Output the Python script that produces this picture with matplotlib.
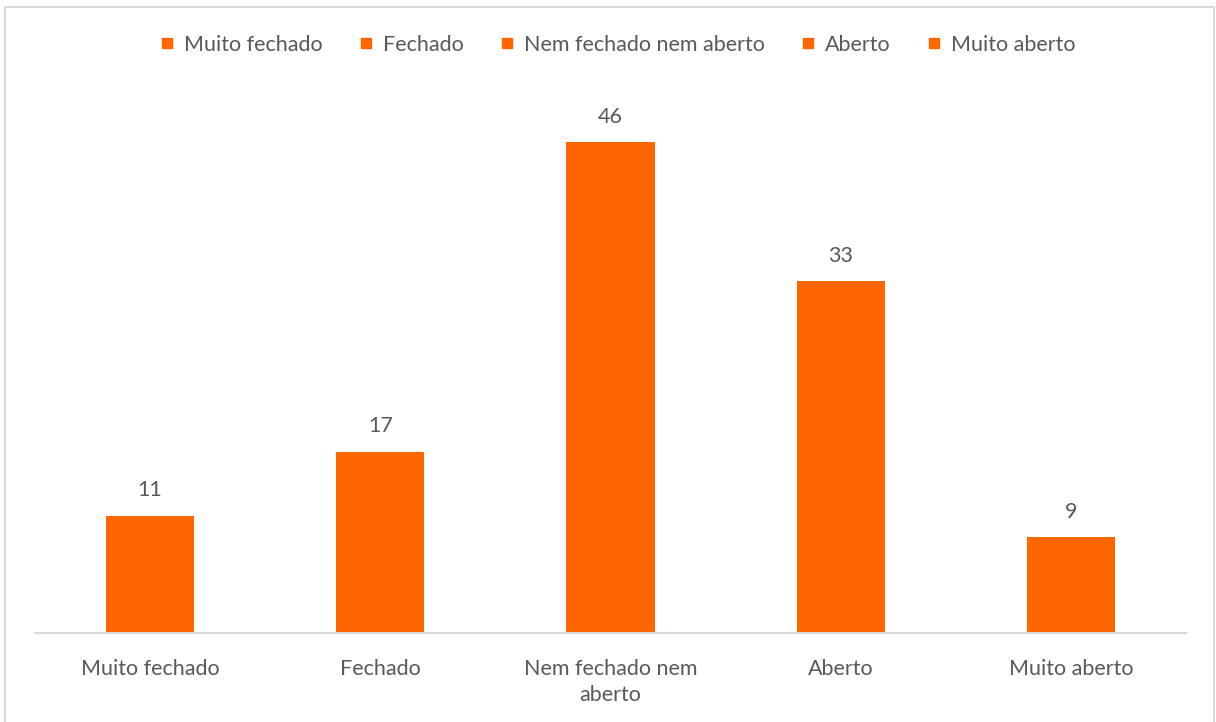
import matplotlib
matplotlib.use('Agg')
import matplotlib.pyplot as plt
from matplotlib.lines import Line2D
from matplotlib.patches import Rectangle

categories = ['Muito fechado', 'Fechado', 'Nem fechado nem aberto', 'Aberto', 'Muito aberto']
tick_labels = ['Muito fechado', 'Fechado', 'Nem fechado nem\naberto', 'Aberto', 'Muito aberto']
values = [11, 17, 46, 33, 9]

orange = '#FF6600'
text_col = '#595959'
fs = 15.5
plt.rcParams['font.family'] = ['Lato', 'DejaVu Sans']

fig = plt.figure(figsize=(12.16, 7.22), dpi=100)
ax = fig.add_axes([35 / 1216, 89 / 722, 1151 / 1216, 533.5 / 722])

x = list(range(len(values)))
bars = ax.bar(x, values, width=88 / 230, color=orange, zorder=2)
for b, v in zip(bars, values):
    ax.annotate(str(v), (b.get_x() + b.get_width() / 2, v), xytext=(0, 11),
                textcoords='offset points', ha='center', va='bottom',
                fontsize=fs, color=text_col)

ax.set_xlim(-0.5, len(values) - 0.5)
ax.set_ylim(0, 50)
ax.set_yticks([])
ax.set_xticks(x)
ax.set_xticklabels(tick_labels, fontsize=fs, color=text_col, linespacing=1.35)
ax.tick_params(axis='x', length=0, pad=19)
for s in ['top', 'right', 'left']:
    ax.spines[s].set_visible(False)
ax.spines['bottom'].set_color('#D9D9D9')
ax.spines['bottom'].set_linewidth(1.5)

handles = [Line2D([], [], marker='s', linestyle='', color=orange, markersize=7) for _ in categories]
fig.legend(handles, categories, loc='center', bbox_to_anchor=(616 / 1216, 1 - 45 / 722),
           ncol=5, frameon=False, fontsize=fs, labelcolor=text_col,
           handletextpad=0.3, columnspacing=1.5, handlelength=1.0)

border = Rectangle((5 / 1216, -0.05), 1209 / 1216, 1.05 - 7 / 722, transform=fig.transFigure,
                   fill=False, edgecolor='#D9D9D9', linewidth=1.5)
fig.patches.append(border)

fig.savefig('out.png', dpi=100)
